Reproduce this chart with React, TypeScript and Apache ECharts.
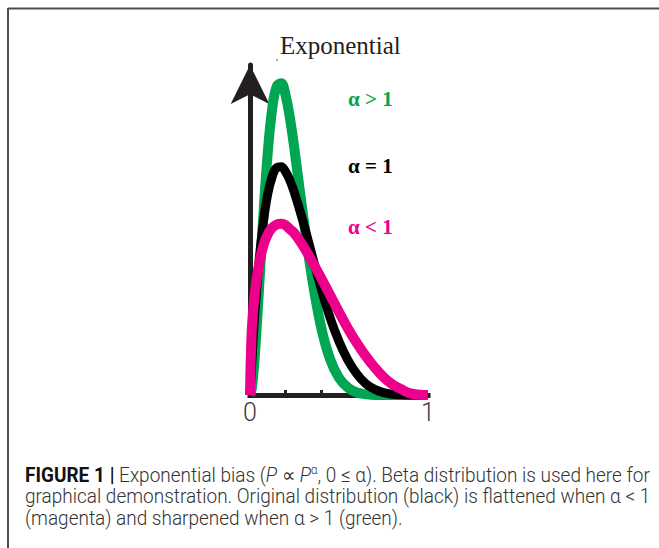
import React, { useEffect, useRef } from "react";
import * as echarts from "echarts";

// x positions (0..1) at which the curves were read
const xValues = [0, 0.01, 0.025, 0.05, 0.075, 0.1, 0.125, 0.15, 0.175, 0.2, 0.225, 0.25, 0.3, 0.35, 0.4, 0.45, 0.5, 0.55, 0.6, 0.65, 0.7, 0.75, 0.8, 0.85, 0.9, 0.95, 1.0];
// α > 1 (green, sharpened)
const greenValues = [0, 0.08, 0.42, 1.28, 2.21, 2.99, 3.53, 3.8, 3.84, 3.69, 3.4, 3.02, 2.18, 1.42, 0.83, 0.44, 0.21, 0.09, 0.03, 0.01, 0, 0, 0, 0, 0, 0, 0];
// α = 1 (black, original)
const blackValues = [0, 0.4, 0.93, 1.63, 2.13, 2.48, 2.69, 2.8, 2.81, 2.75, 2.64, 2.49, 2.12, 1.71, 1.31, 0.95, 0.66, 0.43, 0.26, 0.14, 0.07, 0.03, 0.01, 0.003, 0, 0, 0];
// α < 1 (magenta, flattened)
const magentaValues = [0, 0.8, 1.21, 1.6, 1.84, 1.98, 2.06, 2.1, 2.11, 2.09, 2.04, 1.99, 1.83, 1.64, 1.44, 1.23, 1.02, 0.82, 0.64, 0.48, 0.34, 0.22, 0.13, 0.07, 0.02, 0.004, 0];

const xTickValues = [0.2, 0.4];
const xLabelValues = [0, 1];
const titleText = "Exponential";
const curveLabels = ["α > 1", "α = 1", "α < 1"];
const captionLines = [
  "{b|FIGURE 1 |} Exponential bias ({i|P} ∝ {i|P}{s|α}, 0 ≤ α). Beta distribution is used here for",
  "graphical demonstration. Original distribution (black) is flattened when α < 1",
  "(magenta) and sharpened when α > 1 (green).",
];

const GREEN = "#00A651";
const BLACK = "#000000";
const MAGENTA = "#EC008C";
const AXIS = "#231F20";

export default function App() {
  const ref = useRef<HTMLDivElement>(null);

  useEffect(() => {
    const chart = echarts.init(ref.current!, null, { renderer: "svg" });
    const pairs = (ys: number[]) => xValues.map((x, i) => [x, ys[i]]);
    const lineSeries = (name: string, ys: number[], color: string, width: number) => ({
      type: "line",
      name,
      data: pairs(ys),
      smooth: 0.4,
      showSymbol: false,
      symbol: "none",
      clip: false,
      lineStyle: { color, width, cap: "butt", join: "round" },
      emphasis: { disabled: true },
    });

    const labelColors = [GREEN, BLACK, MAGENTA];
    const labelY = [99, 166, 227];

    chart.setOption({
      animation: false,
      backgroundColor: "#ffffff",
      title: {
        text: titleText,
        left: 275,
        top: 28,
        textStyle: {
          fontFamily: "Liberation Serif",
          fontSize: 25,
          fontWeight: "normal",
          color: AXIS,
        },
      },
      grid: { left: 250, right: 231, top: 65, bottom: 153 },
      xAxis: {
        type: "value",
        min: 0,
        max: 1,
        axisLine: { show: true, onZero: false, lineStyle: { color: AXIS, width: 5, cap: "square" } },
        axisTick: {
          show: true,
          customValues: xTickValues,
          inside: true,
          length: 5,
          lineStyle: { color: AXIS, width: 3 },
        },
        axisLabel: {
          show: true,
          customValues: xLabelValues,
          formatter: (v: number) => String(v),
          margin: 5,
          fontFamily: "Roboto",
          fontWeight: 300,
          fontSize: 25,
          color: "#3a3a3a",
        },
        splitLine: { show: false },
      },
      yAxis: {
        type: "value",
        min: 0,
        max: 4.064,
        axisLine: {
          show: true,
          onZero: false,
          symbol: ["none", "arrow"],
          symbolSize: [29, 39],
          lineStyle: { color: AXIS, width: 5 },
        },
        axisTick: { show: false },
        axisLabel: { show: false },
        splitLine: { show: false },
      },
      series: [
        lineSeries("α > 1", greenValues, GREEN, 10),
        lineSeries("α = 1", blackValues, BLACK, 9),
        lineSeries("α < 1", magentaValues, MAGENTA, 10),
      ],
      graphic: [
        {
          type: "line",
          shape: { x1: 8, y1: 8.5, x2: 659, y2: 8.5 },
          style: { stroke: "#4d4d4d", lineWidth: 2 },
        },
        {
          type: "line",
          shape: { x1: 8, y1: 8, x2: 8, y2: 548 },
          style: { stroke: "#4d4d4d", lineWidth: 2 },
        },
        {
          type: "circle",
          shape: { cx: 277, cy: 60, r: 0.8 },
          style: { fill: "#777777" },
        },
        ...curveLabels.map((t, i) => ({
          type: "text",
          x: 348,
          y: labelY[i],
          style: {
            text: t,
            fill: labelColors[i],
            fontFamily: "Liberation Serif",
            fontWeight: "bold",
            fontSize: 21,
            verticalAlign: "middle",
            align: "left",
          },
        })),
        ...captionLines.map((t, i) => ({
          type: "text",
          x: 25,
          y: [475, 496.5, 518][i],
          scaleX: 0.95,
          style: {
            text: t,
            fill: "#333333",
            fontFamily: "Roboto",
            fontWeight: 300,
            fontSize: 20,
            verticalAlign: "middle",
            align: "left",
            rich: {
              b: { fontFamily: "Roboto", fontWeight: "bold", fontSize: 20, fill: "#111111" },
              i: { fontFamily: "Roboto", fontStyle: "italic", fontWeight: 300, fontSize: 20, fill: "#333333" },
              s: { fontFamily: "Roboto", fontWeight: 300, fontSize: 12, fill: "#333333", padding: [0, 0, 10, 0] },
            },
          },
        })),
      ],
    });
    return () => chart.dispose();
  }, []);

  return (
    <div
      ref={ref}
      style={{ position: "fixed", left: 0, top: 0, width: 659, height: 548 }}
    />
  );
}
